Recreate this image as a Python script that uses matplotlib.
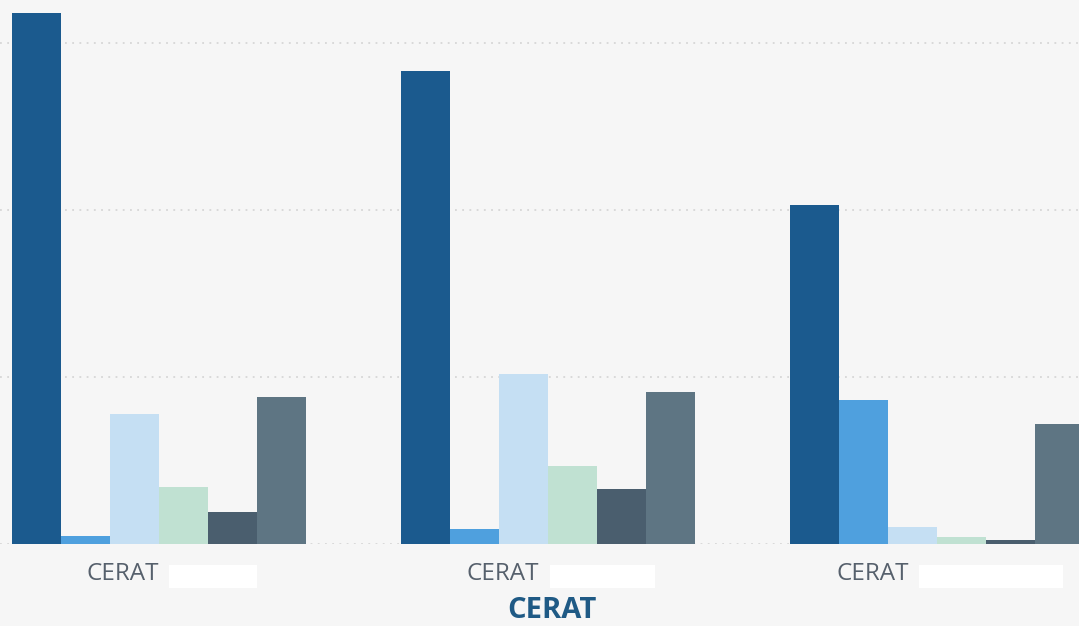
import matplotlib
matplotlib.use("Agg")
import matplotlib.pyplot as plt
import matplotlib.transforms as mtransforms
from matplotlib.patches import Rectangle
import numpy as np

plt.rcParams['font.family'] = ['Open Sans', 'DejaVu Sans']

# ---- data ----
categories = ["CERAT", "CERAT", "CERAT"]
series_values = [
    [318, 283, 203],   # series 1
    [5, 9, 86],        # series 2
    [78, 102, 10],     # series 3
    [34, 47, 4],       # series 4
    [19, 33, 2.4],     # series 5
    [88, 91, 72],      # series 6
]
colors = ["#1b5a8e", "#4fa0de", "#c5dff3", "#c0e1d2", "#4a5e6e", "#5e7583"]
grid_values = [0, 100, 200, 300]
redact_widths_px = [88, 105, 144]
title = "CERAT"

W, H, DPI = 10.79, 6.26, 100
fig = plt.figure(figsize=(W, H), dpi=DPI)
bg = "#f6f6f6"
fig.patch.set_facecolor(bg)

ax_bottom = (626 - 544) / 626
ax = fig.add_axes([0, ax_bottom, 1, 1 - ax_bottom])
ax.set_facecolor(bg)

n_series = len(series_values)
group_w = 294 / 389
bar_w = group_w / n_series
x = np.arange(len(categories))

for i, (vals, c) in enumerate(zip(series_values, colors)):
    ax.bar(x - group_w / 2 + bar_w * (i + 0.5), vals, width=bar_w, color=c,
           edgecolor='none', zorder=3)

ax.set_xlim(-159 / 389, (1079 - 159) / 389)
ax.set_ylim(0, 544 / 167 * 100)
for g in grid_values:
    ax.axhline(g, color="#d6d6d6", linestyle=(0, (1, 3)), linewidth=1.3, zorder=1)

for s in ax.spines.values():
    s.set_visible(False)
ax.set_xticks([])
ax.set_yticks([])

# category labels followed by (redacted) white boxes
gap = 10
fig.canvas.draw()
for xi, cat, rw in zip(x, categories, redact_widths_px):
    xd, yd = ax.transData.transform((xi, 0))
    box_left = xd - rw / 2 + 54
    fig.patches.append(Rectangle((box_left, yd - 44), rw, 23,
                                 transform=None, facecolor='white',
                                 edgecolor='none', figure=fig))
    trans = mtransforms.blended_transform_factory(ax.transData, ax.transAxes)
    ttrans = mtransforms.offset_copy(trans, fig=fig, x=box_left - xd - gap,
                                     y=-36, units='dots')
    ax.text(xi, 0, cat, transform=ttrans, ha='right', va='baseline',
            fontsize=17.5, color="#56606c", clip_on=False)

fig.text(552 / 1079, 1 / 626, title, ha='center', va='bottom', fontsize=21,
         fontweight='bold', color="#1f5a85")

fig.savefig("out.png", dpi=DPI, facecolor=bg)
